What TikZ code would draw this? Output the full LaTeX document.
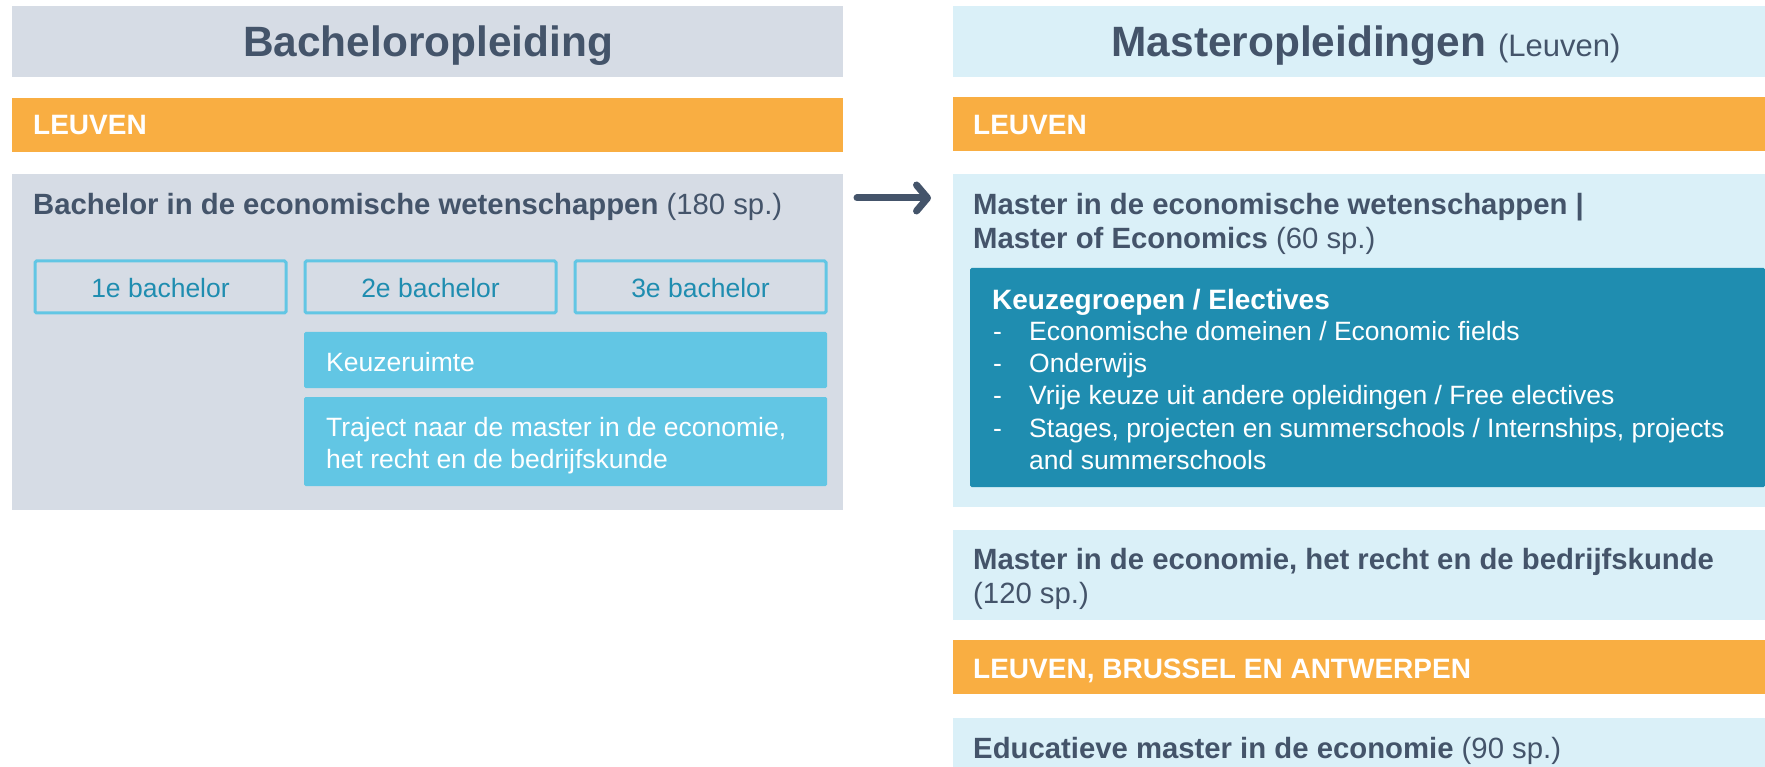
\documentclass[tikz,border=0pt]{standalone}
\usepackage{fontspec}
\setmainfont{Liberation Sans}
\usepackage{tikz}
\usetikzlibrary{arrows.meta}

\definecolor{slate}{HTML}{44546A}
\definecolor{panelgrey}{HTML}{D6DCE5}
\definecolor{panelblue}{HTML}{DAF0F8}
\definecolor{campus}{HTML}{F9AE42}
\definecolor{sky}{HTML}{62C6E4}
\definecolor{deepteal}{HTML}{1F8DB0}

\begin{document}
\begin{tikzpicture}[x=1pt,y=-1pt,
    lbl/.style={anchor=base west,inner sep=0pt,text=slate,font=\fontsize{29.3}{35}\selectfont},
    wlbl/.style={anchor=base west,inner sep=0pt,text=white,font=\fontsize{26.5}{32}\selectfont},
    hdr/.style={anchor=base,inner sep=0pt,text=slate,font=\fontsize{42.4}{50}\selectfont\bfseries},
    campuslbl/.style={anchor=base west,inner sep=0pt,text=white,font=\fontsize{28}{34}\selectfont\bfseries},
    yearbox/.style={draw=sky,line width=3pt,rounded corners=1.5pt},
    yearlbl/.style={anchor=base,inner sep=0pt,text=deepteal,font=\fontsize{26.5}{32}\selectfont},
    flow/.style={draw=slate,line width=7pt,line cap=round,-{Straight Barb[length=11pt,width=26pt,round]}}
  ]
  \useasboundingbox (0,0) rectangle (1765,767);
  \fill[white] (0,0) rectangle (1765,767);

  % left column
  \fill[panelgrey] (12,6) rectangle (843,77);
  \node[hdr] (bachtitle) at (428,57) {Bacheloropleiding};
  \fill[campus] (12,98) rectangle (843,152);
  \node[campuslbl] (bachcampus) at (33,135) {LEUVEN};
  \fill[panelgrey] (12,174) rectangle (843,510);
  \node[lbl] (bachname) at (33,215) {\textbf{Bachelor in de economische wetenschappen} (180 sp.)};
  % years
  \draw[yearbox] (35,261) rectangle (286,313);
  \draw[yearbox] (305,261) rectangle (556,313);
  \draw[yearbox] (575,261) rectangle (826,313);
  \node[yearlbl] (year1) at (160.5,298) {1e bachelor};
  \node[yearlbl] (year2) at (430.5,298) {2e bachelor};
  \node[yearlbl] (year3) at (700.5,298) {3e bachelor};
  % keuze
  \fill[sky,rounded corners=1.5pt] (304,332) rectangle (827,388);
  \node[wlbl] (keuze) at (326,371) {Keuzeruimte};
  \fill[sky,rounded corners=1.5pt] (304,397) rectangle (827,486);
  \node[wlbl] (traject1) at (326,436) {Traject naar de master in de economie,};
  \node[wlbl] (traject2) at (326,468) {het recht en de bedrijfskunde};

  % arrow
  \coordinate (from) at (857,198);
  \coordinate (to) at (931,198);
  \draw[flow] (from) -- (to);

  % right column
  \fill[panelblue] (953,6) rectangle (1765,77);
  \node[hdr] (mastitle) at (1366,57) {Masteropleidingen {\mdseries\fontsize{31}{36}\selectfont (Leuven)}};
  \fill[campus] (953,97) rectangle (1765,151);
  \node[campuslbl] (mascampus) at (973,135) {LEUVEN};
  \fill[panelblue] (953,174) rectangle (1765,507);
  \node[lbl] (econ1) at (973,215) {\textbf{Master in de economische wetenschappen |}};
  \node[lbl] (econ2) at (973,249) {\textbf{Master of Economics} (60 sp.)};
  % electives
  \fill[deepteal,rounded corners=1.5pt] (970,268) rectangle (1765,487);
  \node[campuslbl] (elect) at (992,310) {Keuzegroepen / Electives};
  \node[wlbl] (dash1) at (993,341) {-};
  \node[wlbl] (item1) at (1029,341) {Economische domeinen / Economic fields};
  \node[wlbl] (dash2) at (993,373) {-};
  \node[wlbl] (item2) at (1029,373) {Onderwijs};
  \node[wlbl] (dash3) at (993,404) {-};
  \node[wlbl] (item3) at (1029,404) {Vrije keuze uit andere opleidingen / Free electives};
  \node[wlbl] (dash4) at (993,437) {-};
  \node[wlbl] (item4) at (1029,437) {Stages, projecten en summerschools / Internships, projects};
  \node[wlbl] (item4b) at (1029,469) {and summerschools};
  % other masters
  \fill[panelblue] (953,530) rectangle (1765,620);
  \node[lbl] (recht1) at (973,569) {\textbf{Master in de economie, het recht en de bedrijfskunde}};
  \node[lbl] (recht2) at (973,603) {(120 sp.)};
  \fill[campus] (953,640) rectangle (1765,694);
  \node[campuslbl] (allcampus) at (973,678) {LEUVEN, BRUSSEL EN ANTWERPEN};
  \fill[panelblue] (953,718) rectangle (1765,767);
  \node[lbl] (educ) at (973,758) {\textbf{Educatieve master in de economie} (90 sp.)};
\end{tikzpicture}
\end{document}
